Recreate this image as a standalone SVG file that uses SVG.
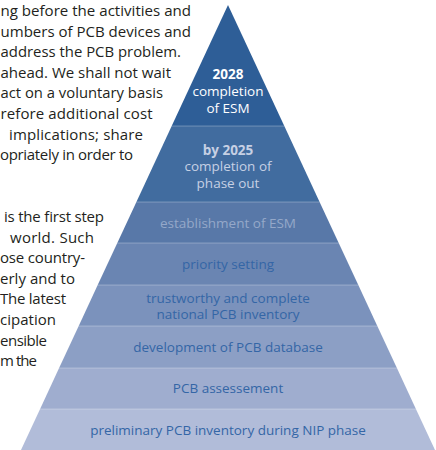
<svg xmlns="http://www.w3.org/2000/svg" width="436" height="450" viewBox="0 0 436 450">
<style>
.p{font-family:"Open Sans","Noto Sans",sans-serif;font-size:15px;fill:#231f20}
.t{font-family:"Open Sans","Noto Sans",sans-serif;font-size:13.5px;text-anchor:middle}
.b{font-weight:bold}
.w{fill:#ffffff}
.g{fill:#c6d0e4}
.e{fill:#95a8c9}
.d{fill:#3466a6}
.sep{stroke:#ffffff;stroke-opacity:0.28;stroke-width:1}
</style>
<rect width="436" height="450" fill="#ffffff"/>
<g id="paragraph">
<text class="p" x="0.5" y="16" textLength="190.5" lengthAdjust="spacingAndGlyphs">ng before the activities and</text>
<text class="p" x="0.5" y="36.6" textLength="190.5" lengthAdjust="spacingAndGlyphs">umbers of PCB devices and</text>
<text class="p" x="0.5" y="57.2" textLength="180.5" lengthAdjust="spacingAndGlyphs">address the PCB problem.</text>
<text class="p" x="0.5" y="77.8" textLength="170.5" lengthAdjust="spacingAndGlyphs">ahead. We shall not wait</text>
<text class="p" x="0.5" y="98.4" textLength="162.5" lengthAdjust="spacingAndGlyphs">act on a voluntary basis</text>
<text class="p" x="0.5" y="119" textLength="152" lengthAdjust="spacing">refore additional cost</text>
<text class="p" x="9" y="139.6" textLength="134" lengthAdjust="spacing">implications; share</text>
<text class="p" x="0" y="160.2" textLength="133" lengthAdjust="spacing">opriately in order to</text>
<text class="p" x="4" y="222" textLength="100" lengthAdjust="spacing">is the first step</text>
<text class="p" x="10" y="242.6" textLength="84" lengthAdjust="spacing">world.  Such</text>
<text class="p" x="0" y="263.2" textLength="85" lengthAdjust="spacing">ose country-</text>
<text class="p" x="0" y="283.8" textLength="75" lengthAdjust="spacing">erly and to</text>
<text class="p" x="0" y="304.4" textLength="66" lengthAdjust="spacing">The latest</text>
<text class="p" x="0" y="325" textLength="56" lengthAdjust="spacing">cipation</text>
<text class="p" x="0" y="345.6" textLength="47" lengthAdjust="spacing">ensible</text>
<text class="p" x="0" y="366.2" textLength="37" lengthAdjust="spacing">m the</text>
</g>
<g id="level8">
<polygon points="228,5 284.3,126 171.7,126" fill="#2e5e97"/>
<text class="t b w" x="228" y="78.5">2028</text>
<text class="t w" x="228" y="95.5">completion</text>
<text class="t w" x="228" y="112.5">of ESM</text>
</g>
<g id="level7">
<polygon points="171.7,126 284.3,126 319.6,202 136.4,202" fill="#416c9f"/>
<text class="t b g" x="228" y="154.5">by 2025</text>
<text class="t g" x="228" y="171">completion of</text>
<text class="t g" x="228" y="187.5">phase out</text>
</g>
<g id="level6">
<polygon points="136.4,202 319.6,202 338.7,243 117.3,243" fill="#5878a8"/>
<text class="t e" x="228" y="227.5">establishment of ESM</text>
</g>
<g id="level5">
<polygon points="117.3,243 338.7,243 358.3,285 97.7,285" fill="#6a85b2"/>
<text class="t d" x="228" y="269">priority setting</text>
</g>
<g id="level4">
<polygon points="97.7,285 358.3,285 377.3,326 78.7,326" fill="#7b92bc"/>
<text class="t d" x="228" y="302.5">trustworthy and complete</text>
<text class="t d" x="228" y="319">national PCB inventory</text>
</g>
<g id="level3">
<polygon points="78.7,326 377.3,326 396.9,368 59.1,368" fill="#8c9fc5"/>
<text class="t d" x="228" y="352">development of PCB database</text>
</g>
<g id="level2">
<polygon points="59.1,368 396.9,368 415.9,409 40.1,409" fill="#9fadcf"/>
<text class="t d" x="228" y="393">PCB assessement</text>
</g>
<g id="level1">
<polygon points="40.1,409 415.9,409 435,450 21,450" fill="#b1bcd9"/>
<text class="t d" x="228" y="435">preliminary PCB inventory during NIP phase</text>
</g>
<g id="separators">
<line class="sep" x1="171.7" y1="126" x2="284.3" y2="126"/>
<line class="sep" x1="136.4" y1="202" x2="319.6" y2="202"/>
<line class="sep" x1="117.3" y1="243" x2="338.7" y2="243"/>
<line class="sep" x1="97.7" y1="285" x2="358.3" y2="285"/>
<line class="sep" x1="78.7" y1="326" x2="377.3" y2="326"/>
<line class="sep" x1="59.1" y1="368" x2="396.9" y2="368"/>
<line class="sep" x1="40.1" y1="409" x2="415.9" y2="409"/>
</g>
</svg>
